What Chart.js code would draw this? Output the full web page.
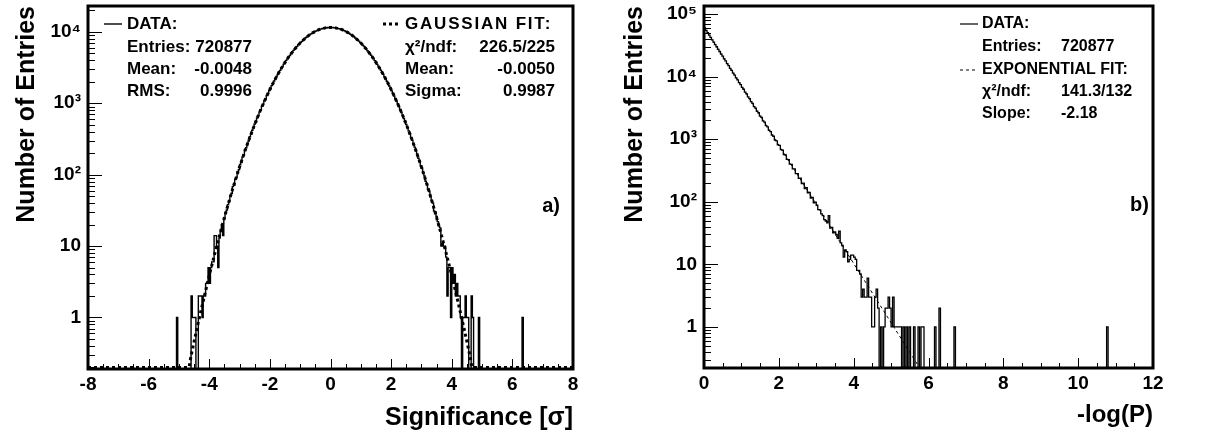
<!DOCTYPE html>
<html>
<head>
<meta charset="utf-8">
<script src="https://cdn.jsdelivr.net/npm/chart.js@4.4.1/dist/chart.umd.min.js"></script>
<style>
  html, body { margin: 0; padding: 0; background: #fff; }
  body { width: 1206px; height: 440px; position: relative; overflow: hidden; }
  .panel { position: absolute; top: 0; height: 440px; }
  #panelA { left: 0; width: 600px; }
  #panelB { left: 600px; width: 606px; }
</style>
</head>
<body>
<div class="panel" id="panelA"><canvas id="sig"></canvas></div>
<div class="panel" id="panelB"><canvas id="logp"></canvas></div>
<script>
// ---- a) significance histogram: 0.04 wide bins, first listed bin centred at -4.62
const sigFirstCenter = -4.62;
const sigBinWidth = 0.04;
const sigTailLeft = [0, 2, 1, 1, 1, 0, 0, 2, 2, 2, 1, 2, 2, 3, 3, 5, 3, 5, 6, 6,
  14, 14, 10, 5, 13, 16, 20, 14, 24, 29, 32, 38, 42, 50];            // -4.62 .. -3.30
const sigCoreLeft = [55, 68, 71, 86, 92, 110, 117, 139, 149, 176,
  190, 221, 238, 274, 296, 341, 366, 418, 452, 511,
  551, 622, 671, 751, 809, 903, 971, 1078, 1158, 1279,
  1369, 1507, 1611, 1763, 1881, 2052, 2185, 2374, 2519, 2727,
  2888, 3113, 3287, 3531, 3719, 3982, 4178, 4461, 4667, 4966,
  5178, 5492, 5709, 6034, 6255, 6588, 6809, 7149, 7363, 7705,
  7912, 8254, 8449, 8786, 8963, 9291, 9451, 9764, 9899, 10196,
  10304, 10578, 10655, 10905, 10949, 11170, 11178, 11368, 11340, 11496,
  11431, 11552];                                                      // -3.26 .. -0.02
const sigCoreRight = [11461, 11527, 11402, 11438, 11276, 11270, 11081, 11039, 10817, 10745,
  10494, 10388, 10114, 9980, 9688, 9528, 9219, 9036, 8718, 8516,
  8190, 7975, 7647, 7421, 7093, 6861, 6536, 6303, 5986, 5754,
  5447, 5218, 4926, 4703, 4425, 4210, 3951, 3747, 3503, 3312,
  3088, 2909, 2704, 2539, 2353, 2202, 2034, 1897, 1747, 1624,
  1492, 1382, 1265, 1168, 1066, 982, 893, 819, 742, 679,
  613, 560, 503, 459, 411, 374, 333, 302, 268, 243,
  214, 195, 170, 155, 134, 122, 105, 96, 81, 75,
  63, 58];                                                            // 0.02 .. 3.26
const sigTailRight = [49, 44, 40, 31, 30, 26, 22, 19, 18, 10,
  11, 10, 10, 7, 2, 5, 5, 1, 5, 3,
  4, 2, 3, 2, 2, 1, 0, 1, 1, 2,
  1, 1, 0, 0, 2, 1, 0, 0, 0, 0,
  1, 0];                                                              // 3.30 .. 4.94
const sigOutliers = [[-5.06, 1], [6.34, 1]];                          // isolated bins [centre, entries]

// gaussian fit (0.2 = curve lying on the frame)
const gausFitX = [-8, -4.68, -4.6, -4.4, -4.2, -4.0, -3.8, -3.6, -3.4, -3.2, -3.0, -2.8, -2.6,
  -2.4, -2.2, -2.0, -1.8, -1.6, -1.4, -1.2, -1.0, -0.8, -0.6, -0.4, -0.2, 0,
  0.2, 0.4, 0.6, 0.8, 1.0, 1.2, 1.4, 1.6, 1.8, 2.0, 2.2, 2.4, 2.6, 2.8, 3.0,
  3.2, 3.4, 3.6, 3.8, 4.0, 4.2, 4.4, 4.6, 4.68, 8];
const gausFitY = [0.2, 0.2, 0.29, 0.72, 1.69, 3.86, 8.4, 17.6, 35.5, 68.8, 128, 228, 391,
  646, 1023, 1557, 2277, 3198, 4318, 5600, 6977, 8353, 9609, 10619, 11276, 11504,
  11276, 10619, 9609, 8353, 6977, 5600, 4318, 3198, 2277, 1557, 1023, 646, 391, 228, 128,
  68.8, 35.5, 17.6, 8.4, 3.86, 1.69, 0.72, 0.29, 0.2, 0.2];

// ---- b) -log(P) histogram: 0.04 wide bins starting at 0
const lpFirstCenter = 0.02;
const lpBinWidth = 0.04;
const lpCounts = [60312, 55021, 50687, 46195, 42583, 38790, 35831, 32540, 30102, 27311,
  25290, 22941, 21279, 19240, 17872, 16160, 15034, 13561, 12612, 11402,
  10618, 9570, 8917, 8023, 7489, 6741, 6301, 5652, 5297, 4741,
  4448, 3981, 3745, 3331, 3152, 2801, 2650, 2342, 2236, 1961,
  1878, 1652, 1579, 1381, 1326, 1162, 1117, 968, 941, 812,
  796, 684, 668, 570, 561, 478, 472, 401, 397, 336,
  335, 281, 283, 236, 239, 196, 199, 163, 168, 139,
  141, 115, 118, 96, 99, 88, 75, 74, 64, 60,
  52, 49, 46, 60, 38, 39, 32, 33, 30, 26,
  34, 22, 20, 13, 17, 16, 11, 12, 14, 14,
  13, 12, 8, 8, 7, 3, 4, 3, 3, 6,
  3, 3, 1, 1, 3, 4, 2, 0, 1, 0,
  1, 2, 2, 3, 2, 1, 3, 1, 1, 1,
  1, 1, 0, 1, 0, 1, 0, 1, 0, 0,
  1, 0, 0, 1, 0, 1, 1, 0];                                          // 0.02 .. 5.90
const lpOutliers = [[6.18, 1], [6.30, 2], [6.70, 1], [10.78, 1]];

// exponential fit: straight on the log axis, from x=0 down to where it leaves the frame
const expFitX = [0, 5.81];
const expFitY = [62860, 0.2];

const FONT = "'Liberation Sans', Arial, Helvetica, sans-serif";
const FLOOR = 1e-3; // empty bins sit below the frame and get clipped, like ROOT on a log axis
const SUP = ['', '', '\u00b2', '\u00b3', '\u2074', '\u2075'];

function histPoints(first, width, counts, outliers) {
  const pts = counts.map((n, i) => ({x: first + i * width, y: n}));
  outliers.forEach(([c, n]) => {
    pts.push({x: c - width, y: 0}, {x: c, y: n}, {x: c + width, y: 0});
  });
  pts.sort((p, q) => p.x - q.x);
  return pts.map(p => ({x: p.x, y: p.y > 0 ? p.y : FLOOR}));
}

function pairs(xs, ys) {
  return xs.map((x, i) => ({x, y: ys[i]}));
}

function decadeLabel(v) {
  const e = Math.round(Math.log10(v));
  if (e === 0) return '1';
  if (e === 1) return '10';
  return '10' + SUP[e];
}

// ROOT style frame with inward ticks
function rootFrame(xMajor, xMinor) {
  return {
    id: 'rootFrame',
    afterDatasetsDraw(chart) {
      const {ctx, chartArea: a, scales: {x, y}} = chart;
      ctx.save();
      ctx.strokeStyle = '#000';
      ctx.lineWidth = 1;
      ctx.beginPath();
      const n = Math.round((x.max - x.min) / xMinor);
      const every = Math.round(xMajor / xMinor);
      for (let i = 0; i <= n; i++) {
        const px = Math.round(x.getPixelForValue(x.min + i * xMinor)) + 0.5;
        const len = i % every === 0 ? 10 : 5;
        ctx.moveTo(px, a.bottom);
        ctx.lineTo(px, a.bottom - len);
      }
      const d0 = Math.floor(Math.log10(y.min));
      const d1 = Math.ceil(Math.log10(y.max));
      for (let d = d0; d <= d1; d++) {
        for (let m = 1; m <= 9; m++) {
          const v = m * Math.pow(10, d);
          if (v < y.min || v > y.max) continue;
          const py = Math.round(y.getPixelForValue(v)) + 0.5;
          ctx.moveTo(a.left, py);
          ctx.lineTo(a.left + (m === 1 ? 14 : 7), py);
        }
      }
      ctx.stroke();
      ctx.lineWidth = 3;
      ctx.strokeRect(a.left, a.top, a.right - a.left, a.bottom - a.top);
      ctx.restore();
    }
  };
}

// stats box text and legend keys
function statBox(keys, texts, size) {
  return {
    id: 'statBox',
    afterDraw(chart) {
      const ctx = chart.ctx;
      ctx.save();
      ctx.strokeStyle = '#000';
      keys.forEach(k => {
        ctx.beginPath();
        ctx.lineWidth = k.w;
        ctx.setLineDash(k.dash || []);
        ctx.moveTo(k.x0, k.y);
        ctx.lineTo(k.x1, k.y);
        ctx.stroke();
      });
      ctx.setLineDash([]);
      ctx.fillStyle = '#000';
      ctx.textBaseline = 'middle';
      texts.forEach(t => {
        ctx.font = 'bold ' + (t.size || size) + 'px ' + FONT;
        ctx.textAlign = t.align || 'left';
        ctx.letterSpacing = t.spacing || '0px';
        ctx.fillText(t.text, t.x, t.y);
      });
      ctx.restore();
    }
  };
}

function makeChart(el, cfg) {
  const tickFont = {family: FONT, size: 19, weight: 'bold'};
  const titleFont = {family: FONT, size: 25, weight: 'bold'};
  return new Chart(document.getElementById(el), {
    type: 'line',
    data: {datasets: cfg.datasets},
    options: {
      animation: false,
      responsive: true,
      maintainAspectRatio: false,
      events: [],
      layout: {padding: {top: 6, right: cfg.padRight, bottom: 0, left: 0}},
      plugins: {legend: {display: false}, tooltip: {enabled: false}},
      elements: {point: {radius: 0}},
      scales: {
        x: {
          type: 'linear', min: cfg.xMin, max: cfg.xMax, bounds: 'data',
          afterFit: s => { s.height = cfg.xHeight; s.paddingLeft = 0; s.paddingRight = 0; },
          grid: {display: false, drawTicks: false},
          border: {display: false},
          ticks: {stepSize: 2, autoSkip: false, maxRotation: 0, padding: 4, color: '#000', font: tickFont},
          title: {display: true, text: cfg.xTitle, align: 'end', color: '#000',
                  font: {family: FONT, size: cfg.xTitleSize, weight: 'bold'},
                  padding: {top: 0, bottom: cfg.xTitlePad}}
        },
        y: {
          type: 'logarithmic', position: 'left', min: cfg.yMin, max: cfg.yMax, bounds: 'data',
          afterFit: s => { s.width = cfg.yWidth; s.paddingTop = 0; s.paddingBottom = 0; },
          afterBuildTicks: s => { s.ticks = cfg.decades.map(v => ({value: v})); },
          grid: {display: false, drawTicks: false},
          border: {display: false},
          ticks: {autoSkip: false, padding: 7, color: '#000', font: tickFont, callback: v => decadeLabel(v)},
          title: {display: true, text: 'Number of Entries', align: 'end', color: '#000', font: titleFont,
                  padding: {top: cfg.yTitlePad, bottom: 0}}
        }
      }
    },
    plugins: [rootFrame(2, 0.5), statBox(cfg.keys, cfg.texts, cfg.statSize)]
  });
}

const sigCounts = [...sigTailLeft, ...sigCoreLeft, ...sigCoreRight, ...sigTailRight];

makeChart('sig', {
  xMin: -8, xMax: 8, yMin: 0.19, yMax: 23000,
  decades: [1, 10, 100, 1000, 10000],
  padRight: 27, xHeight: 71, yWidth: 88, xTitlePad: 7, yTitlePad: 12,
  xTitle: 'Significance [\u03c3]', xTitleSize: 25, statSize: 17,
  datasets: [
    {data: pairs(gausFitX, gausFitY), borderColor: '#000', borderWidth: 3, borderDash: [3, 3],
     cubicInterpolationMode: 'monotone', fill: false},
    {data: histPoints(sigFirstCenter, sigBinWidth, sigCounts, sigOutliers), borderColor: '#000',
     borderWidth: 1.4, stepped: 'middle', fill: false}
  ],
  keys: [
    {x0: 104, x1: 122, y: 24, w: 1.4},
    {x0: 383, x1: 401, y: 24, w: 3, dash: [3, 3]}
  ],
  texts: [
    {text: 'DATA:', x: 127, y: 24},
    {text: 'Entries:', x: 127, y: 47}, {text: '720877', x: 252, y: 47, align: 'right'},
    {text: 'Mean:', x: 127, y: 69}, {text: '-0.0048', x: 252, y: 69, align: 'right'},
    {text: 'RMS:', x: 127, y: 91}, {text: '0.9996', x: 252, y: 91, align: 'right'},
    {text: 'GAUSSIAN FIT:', x: 405, y: 24, spacing: '1.8px'},
    {text: '\u03c7\u00b2/ndf:', x: 405, y: 47}, {text: '226.5/225', x: 555, y: 47, align: 'right'},
    {text: 'Mean:', x: 405, y: 69}, {text: '-0.0050', x: 555, y: 69, align: 'right'},
    {text: 'Sigma:', x: 405, y: 91}, {text: '0.9987', x: 555, y: 91, align: 'right'},
    {text: 'a)', x: 560, y: 206, align: 'right', size: 20}
  ]
});

makeChart('logp', {
  xMin: 0, xMax: 12, yMin: 0.22, yMax: 135000,
  decades: [1, 10, 100, 1000, 10000, 100000],
  padRight: 53, xHeight: 72, yWidth: 104, xTitlePad: 10, yTitlePad: 20,
  xTitle: '-log(P)', xTitleSize: 24, statSize: 16,
  datasets: [
    {data: pairs(expFitX, expFitY), borderColor: '#000', borderWidth: 1, borderDash: [3, 3], fill: false},
    {data: histPoints(lpFirstCenter, lpBinWidth, lpCounts, lpOutliers), borderColor: '#000',
     borderWidth: 1.3, stepped: 'middle', fill: false}
  ],
  keys: [
    {x0: 360, x1: 378, y: 24, w: 1.2},
    {x0: 360, x1: 378, y: 70, w: 1, dash: [3, 3]}
  ],
  texts: [
    {text: 'DATA:', x: 382, y: 24},
    {text: 'Entries:', x: 382, y: 47}, {text: '720877', x: 461, y: 47},
    {text: 'EXPONENTIAL FIT:', x: 382, y: 70},
    {text: '\u03c7\u00b2/ndf:', x: 382, y: 92}, {text: '141.3/132', x: 461, y: 92},
    {text: 'Slope:', x: 382, y: 114}, {text: '-2.18', x: 461, y: 114},
    {text: 'b)', x: 549, y: 205, align: 'right', size: 20}
  ]
});
</script>
</body>
</html>
